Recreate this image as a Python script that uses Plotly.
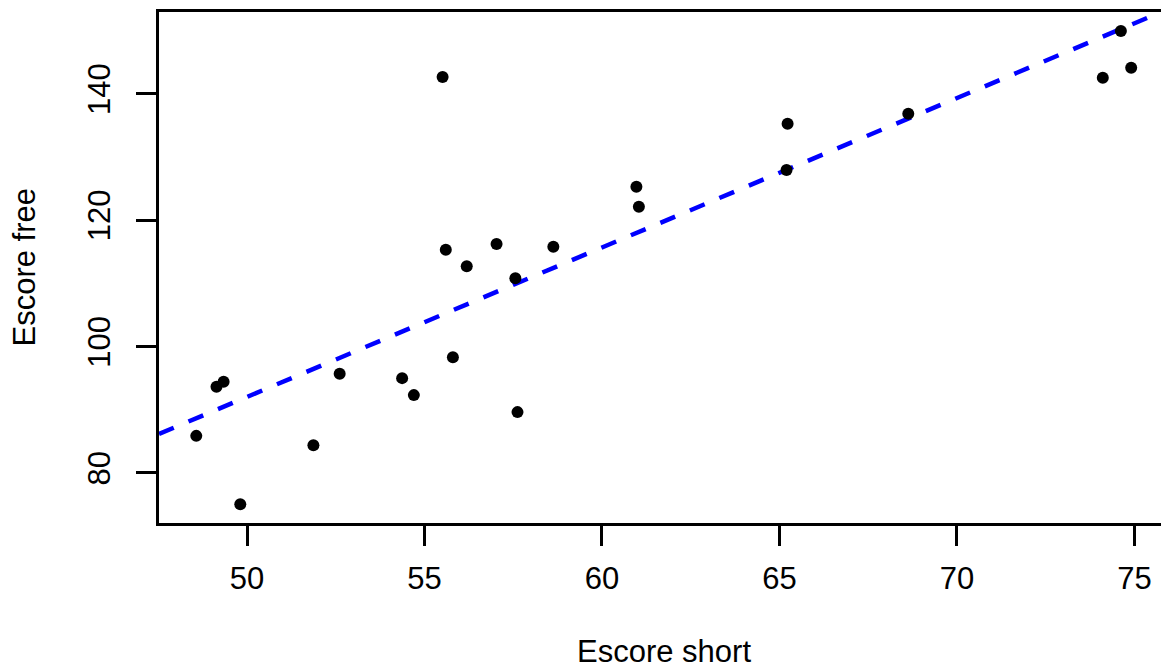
import numpy as np
import plotly.graph_objects as go

# Data
escore_short = [48.57, 49.14, 49.34, 49.81, 51.87, 52.61, 54.37, 54.70, 55.51, 55.60,
                55.80, 56.19, 57.03, 57.56, 57.62, 58.63, 60.97, 61.04, 65.23, 65.20,
                68.63, 74.11, 74.62, 74.91]
escore_free = [85.84, 93.6, 94.4, 75.03, 84.37, 95.66, 94.98, 92.29, 142.64, 115.3,
               98.3, 112.7, 116.2, 110.8, 89.6, 115.77, 125.27, 122.1, 135.25, 127.92,
               136.83, 142.53, 149.93, 144.12]

# Fitted line (intercept, slope)
fit_intercept = -26.24
fit_slope = 2.365

x_ticks = [50, 55, 60, 65, 70, 75]
y_ticks = [80, 100, 120, 140]

x_range = [47.52, 75.75]
y_range = [72.05, 152.93]

FONT = "Liberation Sans, Arial, Helvetica, sans-serif"
FS = 31

fig = go.Figure()

line_x = np.array([47.52, 75.96])
fig.add_trace(go.Scatter(
    x=line_x, y=fit_intercept + fit_slope * line_x,
    mode="lines", line=dict(color="#0000FF", width=4.5, dash="16px,16px"),
    showlegend=False, hoverinfo="skip", cliponaxis=True))

fig.add_trace(go.Scatter(
    x=escore_short, y=escore_free, mode="markers",
    marker=dict(color="black", size=12, line=dict(width=0)),
    showlegend=False))

fig.update_layout(
    width=1161, height=671,
    margin=dict(l=159, r=0, t=12, b=148),
    plot_bgcolor="white", paper_bgcolor="white",
    font=dict(family=FONT, size=FS, color="black"),
    xaxis=dict(range=x_range, tickvals=x_ticks, ticktext=[str(v) for v in x_ticks],
               showgrid=False, zeroline=False, showline=True, mirror=True,
               linecolor="black", linewidth=2.5, ticks="outside", ticklen=20,
               tickwidth=2.5, tickcolor="black", ticklabelstandoff=6,
               tickfont=dict(family=FONT, size=FS, color="black")),
    yaxis=dict(range=y_range, tickvals=y_ticks, ticktext=[str(v) for v in y_ticks],
               showgrid=False, zeroline=False, showline=True, mirror=False,
               linecolor="black", linewidth=2.5, ticks="outside", ticklen=20,
               tickwidth=2.5, tickcolor="black", tickangle=-90, ticklabelstandoff=14,
               tickfont=dict(family=FONT, size=FS, color="black")),
    annotations=[
        dict(text="Escore short", xref="paper", yref="paper",
             x=(664 - 159) / 1002, y=(522.7 - 651.5) / 510.7,
             xanchor="center", yanchor="middle", showarrow=False,
             font=dict(family=FONT, size=FS, color="black")),
        dict(text="Escore free", xref="paper", yref="paper",
             x=(24 - 159) / 1002, y=0.5, textangle=-90,
             xanchor="center", yanchor="middle", showarrow=False,
             font=dict(family=FONT, size=FS, color="black")),
    ],
)

fig.write_html("out.html", config={"displayModeBar": False},
               post_script="document.body.style.margin='0';document.body.style.overflow='hidden';")
